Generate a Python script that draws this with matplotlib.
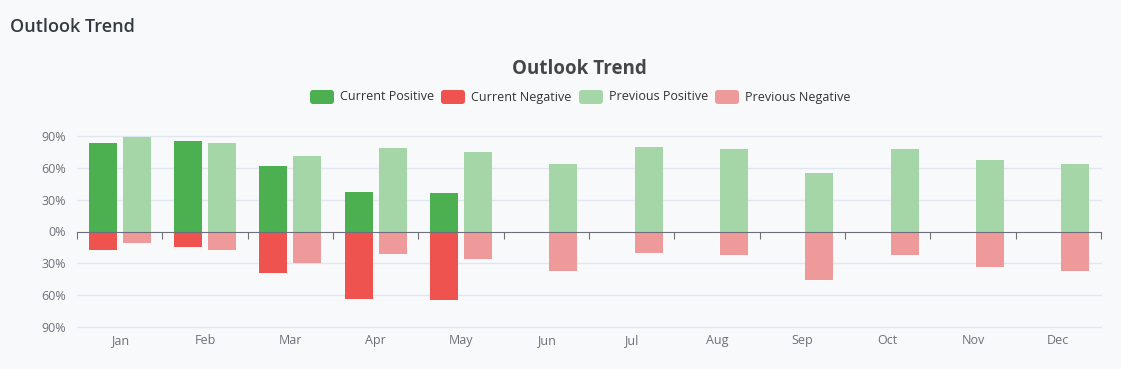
import matplotlib
matplotlib.use("Agg")
import matplotlib.pyplot as plt
import numpy as np
from matplotlib.patches import FancyBboxPatch
from matplotlib.transforms import blended_transform_factory

months = ["Jan", "Feb", "Mar", "Apr", "May", "Jun",
          "Jul", "Aug", "Sep", "Oct", "Nov", "Dec"]
cur_pos = [83, 85, 62, 37, 36, None, None, None, None, None, None, None]
cur_neg = [-17, -15, -39, -64, -65, None, None, None, None, None, None, None]
prev_pos = [89, 83, 71, 79, 75, 64, 80, 78, 55, 78, 67, 64]
prev_neg = [-11, -17, -30, -21, -26, -37, -20, -22, -46, -22, -33, -37]
yticks = [-90, -60, -30, 0, 30, 60, 90]

C_CP, C_CN, C_PP, C_PN = "#4caf50", "#ef5350", "#a5d6a7", "#ef9a9a"
BG = "#f8f9fb"
TXT = "#6e7079"

plt.rcParams["font.family"] = ["Open Sans", "DejaVu Sans"]

fig = plt.figure(figsize=(11.21, 3.69), dpi=100, facecolor=BG)
ax = fig.add_axes([77 / 1121, 42 / 369, 1024 / 1121, 191 / 369])
ax.set_facecolor(BG)

x = np.arange(len(months))
w = 0.328
off = 0.2


def clean(vals):
    return [np.nan if v is None else v for v in vals]


ax.bar(x - off, clean(cur_pos), w, color=C_CP, zorder=2)
ax.bar(x - off, clean(cur_neg), w, color=C_CN, zorder=2)
ax.bar(x + off, clean(prev_pos), w, color=C_PP, zorder=2)
ax.bar(x + off, clean(prev_neg), w, color=C_PN, zorder=2)

ax.set_xlim(-0.5, len(months) - 0.5)
ax.set_ylim(-90, 90)
for y in yticks:
    if y != 0:
        ax.axhline(y, color="#e0e6f1", lw=1, zorder=0, clip_on=False)

for s in ("top", "right", "left"):
    ax.spines[s].set_visible(False)
ax.spines["bottom"].set_position(("data", 0))
ax.spines["bottom"].set_color(TXT)
ax.spines["bottom"].set_zorder(3)
ax.set_xticks(np.arange(-0.5, len(months), 1.0))
ax.tick_params(axis="x", length=5, color=TXT, labelbottom=False, direction="out")
ax.set_yticks(yticks, [f"{abs(v)}%" for v in yticks])
ax.tick_params(axis="y", length=0, labelsize=9, labelcolor=TXT, pad=8)

tr = blended_transform_factory(ax.transData, ax.transAxes)
for i, m in enumerate(months):
    ax.text(i, -0.07, m, transform=tr, ha="center", va="center",
            fontsize=9, color=TXT)

fig.text(10 / 1121, 1 - 27 / 369, "Outlook Trend", fontsize=13,
         fontweight="semibold", color="#333a44", va="center", ha="left")
fig.text(579 / 1121, 1 - 69 / 369, "Outlook Trend", fontsize=13.5,
         fontweight="bold", color="#464646", va="center", ha="center")

legend = [("Current Positive", C_CP, 310), ("Current Negative", C_CN, 441),
          ("Previous Positive", C_PP, 579), ("Previous Negative", C_PN, 715)]
ly = 97
for label, col, lx in legend:
    box = FancyBboxPatch((lx, 369 - (ly + 7)), 24, 14,
                         boxstyle="round,pad=0,rounding_size=3",
                         transform=None, facecolor=col, edgecolor="none")
    fig.patches.append(box)
    fig.text((lx + 30) / 1121, 1 - ly / 369, label, fontsize=9,
             color="#333333", va="center", ha="left")

fig.savefig("out.png", dpi=100, facecolor=BG)
